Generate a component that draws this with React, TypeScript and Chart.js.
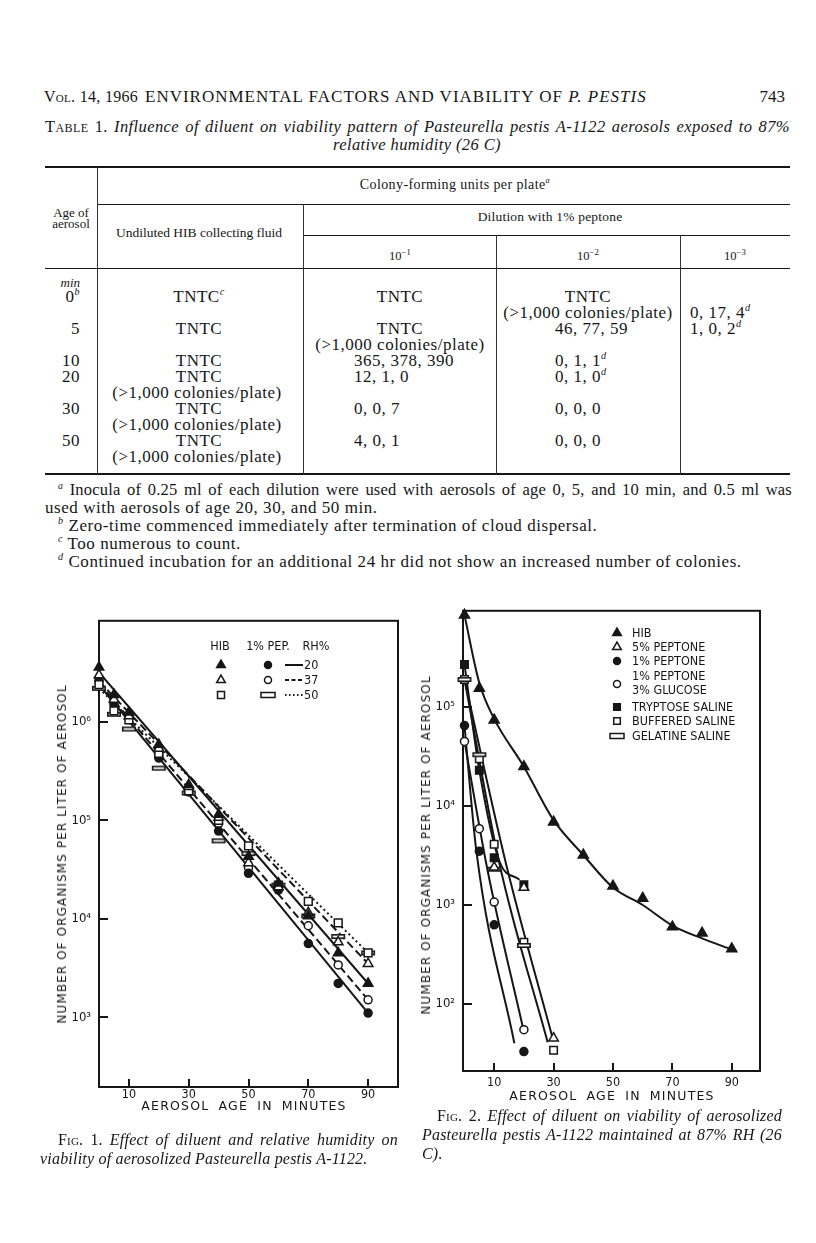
import React, { useEffect, useRef } from 'react';
import { Chart, registerables } from 'chart.js';

Chart.register(...registerables);

// ---------------- Fig. 1 data (organisms per liter of aerosol) ----------------
const fig1Times = [0, 5, 10, 20, 30, 40, 50, 60, 70, 80, 90];
const fig1HibRH20 = [3.6e6, 1.9e6, 1.26e6, 5.9e5, 2.3e5, 1.15e5, 4.3e4, 2.3e4, 1.07e4, 4.5e3, 2.2e3];
const fig1HibRH37 = [3.0e6, 1.7e6, 1.15e6, 5.4e5, 2.2e5, 1.07e5, 3.7e4, 2.1e4, 1.15e4, 5.8e3, 3.5e3];
const fig1HibRH50 = [2.4e6, 1.3e6, 1.05e6, 4.8e5, 2.0e5, 1.0e5, 5.5e4, 2.2e4, 1.5e4, 9.1e3, 4.5e3];
const fig1PepRH20 = [2.6e6, 1.5e6, 1.1e6, 4.3e5, 1.95e5, 7.8e4, 2.9e4, 1.95e4, 5.6e3, 2.2e3, 1.1e3];
const fig1PepRH37 = [2.8e6, 1.6e6, 1.15e6, 4.6e5, 2.1e5, 9.3e4, 3.3e4, 2.1e4, 8.5e3, 3.4e3, 1.5e3];
const fig1PepRH50 = [2.2e6, 1.2e6, 8.5e5, 3.4e5, 1.9e5, 6.2e4, 4.6e4, 2.2e4, 1.07e4, 6.6e3, 4.5e3];
// fitted lines (read at their ends)
const fig1LineTimes = [0, 90];
const fig1LineHib20 = [3.2e6, 2.2e3];
const fig1LineHib37 = [2.6e6, 3.5e3];
const fig1LineRH50 = [2.2e6, 4.5e3];
const fig1LinePep20 = [2.4e6, 1.1e3];
const fig1LinePep37 = [2.5e6, 1.5e3];
const fig1XTicks = [10, 30, 50, 70, 90];
const fig1YTicks = [1e3, 1e4, 1e5, 1e6];

// ---------------- Fig. 2 data ----------------
const fig2Times = [0, 5, 10, 20, 30, 40, 50, 60, 70, 80, 90];
const fig2Hib = [8.5e5, 1.55e5, 7.4e4, 2.5e4, 6.9e3, 3.2e3, 1.55e3, 1.17e3, 6.0e2, 5.2e2, 3.6e2];
const fig2HibCurve = [8.5e5, 1.75e5, 7.6e4, 2.5e4, 7.2e3, 3.2e3, 1.5e3, 1.0e3, 6.2e2, 4.6e2, 3.55e2];
const fig2Pep5Times = [10, 20, 30];
const fig2Pep5 = [2.4e3, 1.5e3, 45];
const fig2ShortTimes = [0, 5, 10, 20];
const fig2Pep1 = [6.5e4, 3.5e3, 6.3e2, 33];
const fig2PepGlu = [4.5e4, 5.9e3, 1.07e3, 55];
const fig2Tryptose = [2.7e5, 2.3e4, 3.0e3, 1.6e3];
const fig2Gelatine = [1.9e5, 3.3e4, 2.3e3, 3.9e2];
const fig2BufferedTimes = [0, 5, 10, 20, 30];
const fig2Buffered = [1.9e5, 3.0e4, 4.1e3, 4.2e2, 34];
// drawn curves
const fig2Pep1LineTimes = [0, 4, 16.8];
const fig2Pep1Line = [6.5e4, 3.5e3, 40];
const fig2GluLineTimes = [0, 7.7, 19.9];
const fig2GluLine = [4.5e4, 2.3e3, 54];
const fig2BufLineTimes = [0, 11.8, 28];
const fig2BufLine = [1.9e5, 2.6e3, 41];
const fig2Pep5LineTimes = [0, 14, 29.6];
const fig2Pep5Line = [1.9e5, 2.6e3, 46];
const fig2TrypLineTimes = [0, 5, 11.8, 18.5];
const fig2TrypLine = [2.7e5, 2.3e4, 2.75e3, 1.8e3];
const fig2XTicks = [10, 30, 50, 70, 90];
const fig2YTicks = [1e2, 1e3, 1e4, 1e5];

const fig1Legend = ['HIB', '1% PEP.', 'RH%'];
const fig1RH = ['20', '37', '50'];
const fig2Legend = ['HIB', '5% PEPTONE', '1% PEPTONE', '1% PEPTONE', '3% GLUCOSE', 'TRYPTOSE SALINE', 'BUFFERED SALINE', 'GELATINE SALINE'];

const INK = '#161616';
const SERIF = '"Liberation Serif", "Times New Roman", serif';
const NARROW = '"Liberation Sans Narrow", "DejaVu Sans Condensed", "Liberation Sans", sans-serif';
const SANS = '"DejaVu Sans", "Liberation Sans", sans-serif';

const SUP: Record<number, string> = { 2: '\u00B2', 3: '\u00B3', 4: '\u2074', 5: '\u2075', 6: '\u2076', 7: '\u2077' };

function pts(times: number[], vals: number[]) {
  return times.map((x, i) => ({ x, y: vals[i] }));
}

function makeBar(w: number, h: number) {
  const c = document.createElement('canvas');
  c.width = w + 2;
  c.height = h + 2;
  const g = c.getContext('2d')!;
  g.fillStyle = '#fff';
  g.fillRect(1, 1, w, h);
  g.strokeStyle = INK;
  g.lineWidth = 1.6;
  g.strokeRect(1.8, 1.8, w - 1.6, h - 1.6);
  return c;
}

function shape(ctx: CanvasRenderingContext2D, kind: string, x: number, y: number, r: number) {
  ctx.save();
  ctx.lineWidth = 1.5;
  ctx.strokeStyle = INK;
  ctx.beginPath();
  if (kind === 'triF' || kind === 'triO') {
    const w = r * Math.sin(Math.PI / 3);
    ctx.moveTo(x, y - r);
    ctx.lineTo(x + w, y + r / 2);
    ctx.lineTo(x - w, y + r / 2);
    ctx.closePath();
  } else if (kind === 'circF' || kind === 'circO') {
    ctx.arc(x, y, r, 0, Math.PI * 2);
  } else if (kind === 'sqF' || kind === 'sqO') {
    ctx.rect(x - r, y - r, 2 * r, 2 * r);
  } else if (kind === 'bar') {
    ctx.rect(x - 7, y - 2.5, 14, 5);
  }
  ctx.fillStyle = kind.endsWith('F') ? INK : '#fff';
  ctx.fill();
  ctx.stroke();
  ctx.restore();
}

function framePlugin(xTicks: number[], yTicks: number[], legend: (ctx: CanvasRenderingContext2D) => void) {
  return {
    id: 'frame',
    beforeDatasetsDraw(chart: any) {
      const { ctx, chartArea: a, scales } = chart;
      ctx.save();
      ctx.strokeStyle = INK;
      ctx.lineWidth = 2;
      ctx.strokeRect(a.left, a.top, a.right - a.left, a.bottom - a.top);
      ctx.beginPath();
      for (const v of yTicks) {
        const y = Math.round(scales.y.getPixelForValue(v));
        ctx.moveTo(a.left, y);
        ctx.lineTo(a.left + 9, y);
      }
      for (const v of xTicks) {
        const x = Math.round(scales.x.getPixelForValue(v));
        ctx.moveTo(x, a.bottom);
        ctx.lineTo(x, a.bottom - 8);
      }
      ctx.stroke();
      ctx.restore();
    },
    afterDatasetsDraw(chart: any) {
      const ctx = chart.ctx;
      ctx.save();
      legend(ctx);
      ctx.restore();
    },
  };
}

function scalesFor(xMin: number, xMax: number, yMin: number, yMax: number, xTicks: number[], yTicks: number[], yWidth: number, xHeight: number, xPad: number) {
  const tickFont = { family: NARROW, size: 13 };
  return {
    x: {
      type: 'linear',
      min: xMin,
      max: xMax,
      afterBuildTicks: (s: any) => { s.ticks = xTicks.map((v) => ({ value: v })); },
      afterFit: (s: any) => { s.height = xHeight; },
      grid: { display: false, drawTicks: false },
      border: { display: false },
      ticks: { font: { family: NARROW, size: 12.5 }, color: INK, padding: xPad, maxRotation: 0, autoSkip: false, callback: (v: any) => String(v) },
    },
    y: {
      type: 'logarithmic',
      min: yMin,
      max: yMax,
      afterBuildTicks: (s: any) => { s.ticks = yTicks.map((v) => ({ value: v })); },
      afterFit: (s: any) => { s.width = yWidth; },
      grid: { display: false, drawTicks: false },
      border: { display: false },
      ticks: {
        font: tickFont,
        color: INK,
        padding: 8,
        autoSkip: false,
        callback: (v: any) => '10' + SUP[Math.round(Math.log10(Number(v)))],
      },
    },
  };
}

function marker(label: string, data: any[], style: any, fill: string, r: number) {
  return {
    label,
    data,
    showLine: false,
    pointStyle: style,
    pointRadius: r,
    pointBackgroundColor: fill,
    pointBorderColor: INK,
    pointBorderWidth: 1.5,
    clip: false,
    order: 0,
  };
}

function curve(label: string, data: any[], dash: number[], smooth: boolean) {
  return {
    label,
    data,
    showLine: true,
    pointRadius: 0,
    borderColor: INK,
    borderWidth: 2,
    borderDash: dash,
    cubicInterpolationMode: smooth ? 'monotone' : 'default',
    tension: 0,
    order: 5,
  };
}

function fig1Config() {
  const bar = makeBar(14, 5);
  const ox = 60, oy = 605;
  const legend = (ctx: CanvasRenderingContext2D) => {
    ctx.fillStyle = INK;
    ctx.font = `12.5px ${NARROW}`;
    ctx.textAlign = 'center';
    ctx.textBaseline = 'middle';
    ctx.fillText(fig1Legend[0], 220 - ox, 647 - oy);
    ctx.fillText(fig1Legend[1], 268 - ox, 647 - oy);
    ctx.fillText(fig1Legend[2], 316 - ox, 647 - oy);
    const rows = [665, 680, 695];
    const c1 = ['triF', 'triO', 'sqO'];
    const c2 = ['circF', 'circO', 'bar'];
    const dashes = [[], [4, 2.5], [1.5, 2.5]];
    rows.forEach((ry, i) => {
      const y = ry - oy;
      shape(ctx, c1[i], 221 - ox, y, c1[i] === 'sqO' ? 3.5 : 5);
      shape(ctx, c2[i], 268 - ox, y, 3.5);
      ctx.save();
      ctx.strokeStyle = INK;
      ctx.lineWidth = 2;
      ctx.setLineDash(dashes[i]);
      ctx.beginPath();
      ctx.moveTo(285 - ox, y);
      ctx.lineTo(303 - ox, y);
      ctx.stroke();
      ctx.restore();
      ctx.fillStyle = INK;
      ctx.textAlign = 'left';
      ctx.fillText(fig1RH[i], 304 - ox, y + 0.5);
    });
  };
  return {
    type: 'scatter',
    data: {
      datasets: [
        marker('HIB, 20% RH', pts(fig1Times, fig1HibRH20), 'triangle', INK, 5.5),
        marker('HIB, 37% RH', pts(fig1Times, fig1HibRH37), 'triangle', '#fff', 5.5),
        marker('HIB, 50% RH', pts(fig1Times, fig1HibRH50), 'rect', '#fff', 5.5),
        marker('1% peptone, 20% RH', pts(fig1Times, fig1PepRH20), 'circle', INK, 4),
        marker('1% peptone, 37% RH', pts(fig1Times, fig1PepRH37), 'circle', '#fff', 4),
        marker('1% peptone, 50% RH', pts(fig1Times, fig1PepRH50), bar, '#fff', 5),
        curve('HIB 20% RH line', pts(fig1LineTimes, fig1LineHib20), [], false),
        curve('HIB 37% RH line', pts(fig1LineTimes, fig1LineHib37), [8, 4], false),
        curve('50% RH line', pts(fig1LineTimes, fig1LineRH50), [2, 3], false),
        curve('1% peptone 20% RH line', pts(fig1LineTimes, fig1LinePep20), [], false),
        curve('1% peptone 37% RH line', pts(fig1LineTimes, fig1LinePep37), [8, 4], false),
      ],
    },
    options: {
      animation: false,
      responsive: false,
      events: [],
      layout: { padding: { left: 0, top: 13, right: 12, bottom: 0 } },
      plugins: { legend: { display: false }, tooltip: { enabled: false } },
      scales: scalesFor(0, 100, 195, 1.07e7, fig1XTicks, fig1YTicks, 39, 18, 0),
    },
    plugins: [framePlugin(fig1XTicks, fig1YTicks, legend)],
  };
}

function fig2Config() {
  const bar = makeBar(14, 5);
  const ox = 430, oy = 595;
  const legend = (ctx: CanvasRenderingContext2D) => {
    ctx.font = `12.5px ${NARROW}`;
    ctx.textAlign = 'left';
    ctx.textBaseline = 'middle';
    const items: [string, number, number[]][] = [
      ['triF', 633, [0]],
      ['triO', 647, [1]],
      ['circF', 661, [2]],
      ['circO', 684, [3, 4]],
      ['sqF', 707, [5]],
      ['sqO', 721, [6]],
      ['bar', 736, [7]],
    ];
    items.forEach(([k, y, labels]) => {
      const r = k.startsWith('tri') ? 5 : k.startsWith('circ') ? 3.5 : 3.3;
      shape(ctx, k, 617 - ox, y - oy, r);
      ctx.fillStyle = INK;
      if (labels.length === 1) {
        ctx.fillText(fig2Legend[labels[0]], 632 - ox, y - oy + 0.5);
      } else {
        ctx.fillText(fig2Legend[labels[0]], 632 - ox, 677 - oy);
        ctx.fillText(fig2Legend[labels[1]], 632 - ox, 691 - oy);
      }
    });
  };
  return {
    type: 'scatter',
    data: {
      datasets: [
        marker('HIB', pts(fig2Times, fig2Hib), 'triangle', INK, 5.8),
        marker('5% peptone', pts(fig2Pep5Times, fig2Pep5), 'triangle', '#fff', 5.5),
        marker('1% peptone', pts(fig2ShortTimes, fig2Pep1), 'circle', INK, 4),
        marker('1% peptone 3% glucose', pts(fig2ShortTimes, fig2PepGlu), 'circle', '#fff', 4),
        marker('Tryptose saline', pts(fig2ShortTimes, fig2Tryptose), 'rect', INK, 5.3),
        marker('Gelatine saline', pts(fig2ShortTimes, fig2Gelatine), bar, '#fff', 5),
        marker('Buffered saline', pts(fig2BufferedTimes, fig2Buffered), 'rect', '#fff', 5.3),
        curve('HIB curve', pts(fig2Times, fig2HibCurve), [], true),
        curve('1% peptone curve', pts(fig2Pep1LineTimes, fig2Pep1Line), [], true),
        curve('glucose curve', pts(fig2GluLineTimes, fig2GluLine), [], true),
        curve('buffered saline curve', pts(fig2BufLineTimes, fig2BufLine), [], true),
        curve('5% peptone curve', pts(fig2Pep5LineTimes, fig2Pep5Line), [], true),
        curve('tryptose saline curve', pts(fig2TrypLineTimes, fig2TrypLine), [], true),
      ],
    },
    options: {
      animation: false,
      responsive: false,
      events: [],
      layout: { padding: { left: 0, top: 13, right: 15, bottom: 0 } },
      plugins: { legend: { display: false }, tooltip: { enabled: false } },
      scales: scalesFor(-0.5, 99.5, 21, 9.4e5, fig2XTicks, fig2YTicks, 33, 24, 4),
    },
    plugins: [framePlugin(fig2XTicks, fig2YTicks, legend)],
  };
}

function ChartCanvas({ left, top, width, height, make }: any) {
  const ref = useRef<HTMLCanvasElement>(null);
  useEffect(() => {
    const chart = new Chart(ref.current as HTMLCanvasElement, make());
    return () => chart.destroy();
  }, []);
  return <canvas ref={ref} width={width} height={height} style={{ position: 'absolute', left, top, width, height }} />;
}

type TP = {
  x: number; y: number; size?: number; w?: number;
  align?: 'left' | 'center' | 'right' | 'justify';
  italic?: boolean; family?: string; ls?: number; ws?: number; children: any;
};
function T({ x, y, size = 17, w, align = 'left', italic, family = SERIF, ls = 0.5, ws, children }: TP) {
  const st: any = {
    position: 'absolute',
    top: y - size * 0.56,
    left: x,
    fontSize: size,
    lineHeight: `${size}px`,
    fontFamily: family,
    fontStyle: italic ? 'italic' : 'normal',
    color: INK,
    whiteSpace: 'nowrap',
    letterSpacing: ls ? `${ls}px` : undefined,
    wordSpacing: ws ? `${ws}px` : undefined,
  };
  if (align === 'center') st.transform = 'translateX(-50%)';
  if (align === 'right') st.transform = 'translateX(-100%)';
  if (align === 'justify') {
    st.width = w;
    st.whiteSpace = 'normal';
    st.textAlign = 'justify';
    st.textAlignLast = 'justify';
  }
  return <div style={st}>{children}</div>;
}

function VTitle({ x, y, size, ls, children }: any) {
  return (
    <div
      style={{
        position: 'absolute', left: x, top: y, fontFamily: SANS, fontSize: size, lineHeight: `${size}px`,
        letterSpacing: `${ls}px`, whiteSpace: 'nowrap', color: INK,
        transform: 'translate(-50%, -50%) rotate(-90deg)',
      }}
    >
      {children}
    </div>
  );
}

const SC = ({ children }: any) => <span style={{ fontVariant: 'small-caps' }}>{children}</span>;
const Sup = ({ children }: any) => <sup style={{ fontSize: '60%', fontStyle: 'italic', lineHeight: 0 }}>{children}</sup>;

function HL({ x1, x2, y, t = 1 }: any) {
  return <div style={{ position: 'absolute', left: x1, top: y - t / 2, width: x2 - x1, height: t, background: INK }} />;
}
function VL({ x, y1, y2, t = 1 }: any) {
  return <div style={{ position: 'absolute', left: x - t / 2, top: y1, width: t, height: y2 - y1, background: '#333' }} />;
}

const colonies = '(>1,000 colonies/plate)';

export default function App() {
  return (
    <div style={{ position: 'absolute', left: 0, top: 0, width: 816, height: 1243, background: '#fff', overflow: 'hidden' }}>
      {/* running head */}
      <T x={44} y={98} size={16} ls={0.3}><SC>Vol.</SC> 14, 1966</T>
      <T x={145} y={98} size={17} ls={1.0}>ENVIRONMENTAL FACTORS AND VIABILITY OF <i>P. PESTIS</i></T>
      <T x={785} y={98} size={17} ls={0} align="right">743</T>

      {/* table title */}
      <T x={45} y={128} size={16.5} ls={0.4} w={745} align="justify" italic>
        <span style={{ fontStyle: 'normal' }}><SC>Table</SC> 1.</span> Influence of diluent on viability pattern of Pasteurella pestis A-1122 aerosols exposed to 87%
      </T>
      <T x={417} y={146} size={16.5} ls={0.4} align="center" italic>relative humidity (26 C)</T>

      {/* table rules */}
      <HL x1={45} x2={790} y={167} t={2} />
      <HL x1={97} x2={790} y={204} />
      <HL x1={303} x2={790} y={235} />
      <HL x1={45} x2={790} y={268} />
      <HL x1={45} x2={790} y={474} t={2} />
      <VL x={97} y1={167} y2={474} />
      <VL x={303} y1={204} y2={474} />
      <VL x={496} y1={235} y2={474} />
      <VL x={680} y1={235} y2={474} />

      {/* table header */}
      <T x={455} y={186} size={14} ls={0.4} align="center">Colony-forming units per plate<Sup>a</Sup></T>
      <T x={71} y={213} size={13} ls={0} align="center">Age of</T>
      <T x={71} y={224} size={13} ls={0} align="center">aerosol</T>
      <T x={199} y={234} size={13.5} ls={0} align="center">Undiluted HIB collecting fluid</T>
      <T x={550} y={218} size={13.5} ls={0.2} align="center">Dilution with 1% peptone</T>
      <T x={400} y={253} size={12.5} ls={0} align="center">10<sup style={{ fontSize: '70%' }}>−1</sup></T>
      <T x={588} y={253} size={12.5} ls={0} align="center">10<sup style={{ fontSize: '70%' }}>−2</sup></T>
      <T x={735} y={253} size={12.5} ls={0} align="center">10<sup style={{ fontSize: '70%' }}>−3</sup></T>
      <T x={80} y={283} size={13} ls={0} align="right" italic>min</T>

      {/* table body */}
      <T x={80} y={298} align="right">0<Sup>b</Sup></T>
      <T x={199} y={298} align="center">TNTC<Sup>c</Sup></T>
      <T x={400} y={298} align="center">TNTC</T>
      <T x={588} y={298} align="center">TNTC</T>
      <T x={588} y={314} align="center">{colonies}</T>
      <T x={690} y={314}>0, 17, 4<Sup>d</Sup></T>

      <T x={80} y={330} align="right">5</T>
      <T x={199} y={330} align="center">TNTC</T>
      <T x={400} y={330} align="center">TNTC</T>
      <T x={555} y={330}>46, 77, 59</T>
      <T x={690} y={330}>1, 0, 2<Sup>d</Sup></T>
      <T x={400} y={346} align="center">{colonies}</T>

      <T x={80} y={362} align="right">10</T>
      <T x={199} y={362} align="center">TNTC</T>
      <T x={354} y={362}>365, 378, 390</T>
      <T x={555} y={362}>0, 1, 1<Sup>d</Sup></T>

      <T x={80} y={378} align="right">20</T>
      <T x={199} y={378} align="center">TNTC</T>
      <T x={354} y={378}>12, 1, 0</T>
      <T x={555} y={378}>0, 1, 0<Sup>d</Sup></T>
      <T x={197} y={394} align="center">{colonies}</T>

      <T x={80} y={410} align="right">30</T>
      <T x={199} y={410} align="center">TNTC</T>
      <T x={354} y={410}>0, 0, 7</T>
      <T x={555} y={410}>0, 0, 0</T>
      <T x={197} y={426} align="center">{colonies}</T>

      <T x={80} y={442} align="right">50</T>
      <T x={199} y={442} align="center">TNTC</T>
      <T x={354} y={442}>4, 0, 1</T>
      <T x={555} y={442}>0, 0, 0</T>
      <T x={197} y={458} align="center">{colonies}</T>

      {/* footnotes */}
      <T x={58} y={491} size={16.5} w={734} ls={0.2} align="justify"><Sup>a</Sup> Inocula of 0.25 ml of each dilution were used with aerosols of age 0, 5, and 10 min, and 0.5 ml was</T>
      <T x={45} y={509} ls={0.55}>used with aerosols of age 20, 30, and 50 min.</T>
      <T x={58} y={527} ls={0.55}><Sup>b</Sup> Zero-time commenced immediately after termination of cloud dispersal.</T>
      <T x={58} y={545} ls={0.55}><Sup>c</Sup> Too numerous to count.</T>
      <T x={58} y={563} ls={0.55}><Sup>d</Sup> Continued incubation for an additional 24 hr did not show an increased number of colonies.</T>

      {/* Fig. 1 */}
      <ChartCanvas left={60} top={605} width={350} height={500} make={fig1Config} />
      <VTitle x={62} y={854} size={12} ls={1.1}>NUMBER OF ORGANISMS PER LITER OF AEROSOL</VTitle>
      <T x={244} y={1107} size={12.5} family={SANS} align="center" ls={1.2} ws={4}>AEROSOL AGE IN MINUTES</T>
      <T x={58} y={1141} size={16} ls={0.2} w={340} align="justify" italic>
        <span style={{ fontStyle: 'normal' }}><SC>Fig.</SC> 1.</span> Effect of diluent and relative humidity on
      </T>
      <T x={40} y={1160} size={16} ls={0.2} italic>viability of aerosolized Pasteurella pestis A-1122.</T>

      {/* Fig. 2 */}
      <ChartCanvas left={430} top={595} width={345} height={500} make={fig2Config} />
      <VTitle x={426} y={845} size={12} ls={1.1}>NUMBER OF ORGANISMS PER LITER OF AEROSOL</VTitle>
      <T x={612} y={1097} size={12.5} family={SANS} align="center" ls={1.2} ws={4}>AEROSOL AGE IN MINUTES</T>
      <T x={437} y={1117} size={16} ls={0.2} w={345} align="justify" italic>
        <span style={{ fontStyle: 'normal' }}><SC>Fig.</SC> 2.</span> Effect of diluent on viability of aerosolized
      </T>
      <T x={422} y={1136} size={16} ls={0.2} w={360} align="justify" italic>Pasteurella pestis A-1122 maintained at 87% RH (26</T>
      <T x={422} y={1155} size={16} ls={0.2} italic>C).</T>
    </div>
  );
}
